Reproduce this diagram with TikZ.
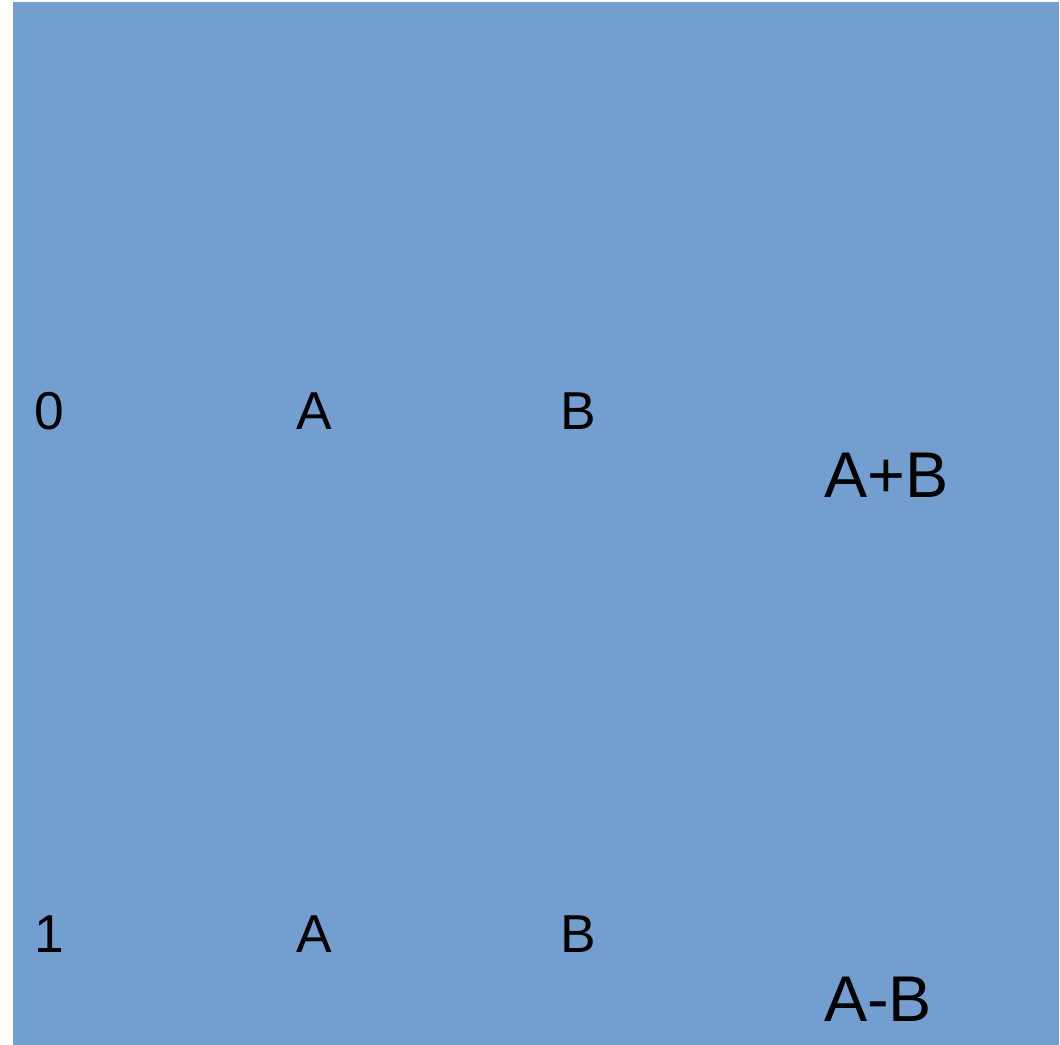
\documentclass[tikz,border=0pt]{standalone}
\usepackage{fontspec}
\setmainfont{Liberation Sans}
\definecolor{skyblue}{HTML}{729FCF}
\begin{document}
\begin{tikzpicture}[x=0.75pt, y=-0.75pt,
    lbl/.style={inner sep=0pt, anchor=base west, font=\fontsize{40}{48}\selectfont},
    res/.style={inner sep=0pt, anchor=base west, font=\fontsize{48.5}{58}\selectfont}]
    \useasboundingbox (0,0) rectangle (1060,1045);
    \fill[skyblue] (13,2) rectangle (1059,1045);

    \node[lbl] (z0) at (34,429) {0};
    \node[lbl] (a0) at (296,429) {A};
    \node[lbl] (b0) at (560,429) {B};
    \node[res] (sum) at (824,497) {A+B};

    \node[lbl] (z1) at (34,952) {1};
    \node[lbl] (a1) at (296,952) {A};
    \node[lbl] (b1) at (560,952) {B};
    \node[res] (diff) at (824,1021) {A-B};
\end{tikzpicture}
\end{document}
